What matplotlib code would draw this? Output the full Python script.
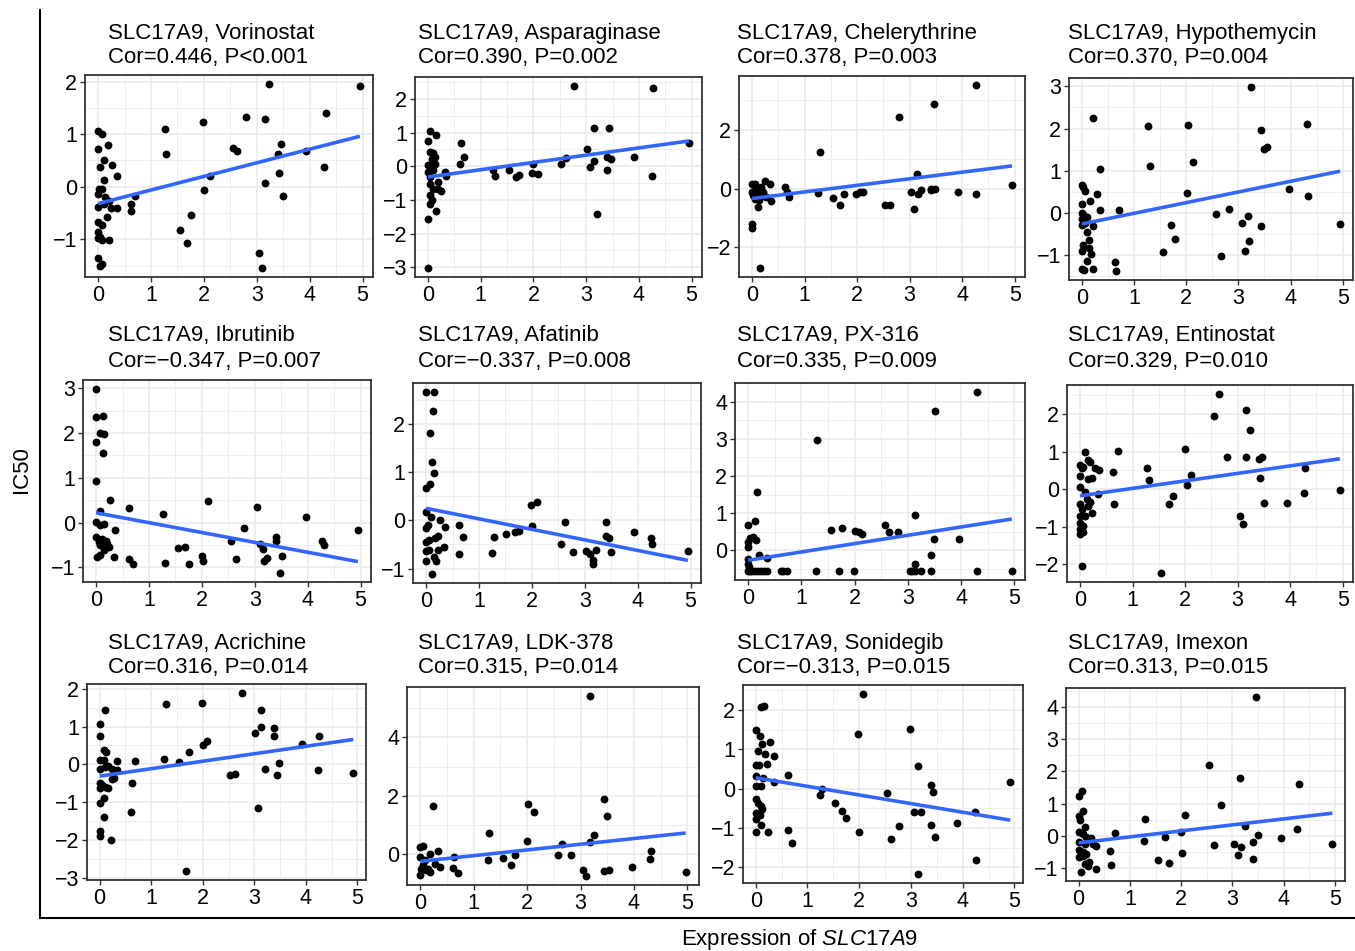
import matplotlib
matplotlib.use("Agg")
import matplotlib.pyplot as plt
from matplotlib.lines import Line2D
import numpy as np

# --- data (SLC17A9 expression vs drug IC50) ---
drugs = ["Vorinostat", "Asparaginase", "Chelerythrine", "Hypothemycin",
         "Ibrutinib", "Afatinib", "PX-316", "Entinostat",
         "Acrichine", "LDK-378", "Sonidegib", "Imexon"]
cors = ["0.446", "0.390", "0.378", "0.370", "\u22120.347", "\u22120.337",
        "0.335", "0.329", "0.316", "0.315", "\u22120.313", "0.313"]
pvals = ["P<0.001", "P=0.002", "P=0.003", "P=0.004", "P=0.007", "P=0.008",
         "P=0.009", "P=0.010", "P=0.014", "P=0.014", "P=0.015", "P=0.015"]

vorinostat = [(0, 1.06), (0.08, 1.0), (0, 0.71), (0.19, 0.79), (0.11, 0.51), (0.04, 0.37), (0.27, 0.42),
              (0.36, 0.2), (0.11, 0.13), (0.01, -0.05), (0.08, -0.05), (0, -0.14), (0.14, -0.2), (0.2, -0.27),
              (0, -0.38), (0.11, -0.33), (0.24, -0.4), (0.36, -0.4), (0.17, -0.58), (0, -0.66), (0.08, -0.72),
              (0, -0.85), (0.04, -0.95), (0, -0.98), (0.08, -1.02), (0.2, -1.01), (0, -1.36), (0.08, -1.46),
              (0.04, -1.5), (0.62, -0.33), (0.62, -0.46), (0.7, -0.17), (1.26, 1.1), (1.29, 0.63), (1.55, -0.82),
              (1.69, -1.06), (1.76, -0.53), (1.99, 1.23), (2.01, -0.06), (2.11, 0.2), (2.56, 0.73), (2.63, 0.68),
              (2.79, 1.32), (3.04, -1.26), (3.09, -1.54), (3.16, 1.29), (3.23, 1.95), (3.16, 0.08), (3.41, 0.63),
              (3.46, 0.82), (3.42, 0.26), (3.5, -0.17), (3.94, 0.68), (4.3, 1.4), (4.28, 0.37), (4.95, 1.92)]
asparaginase = [(0, -3.02), (0, -1.56), (0.16, -1.33), (0.03, -0.86), (0.08, -1.01), (0.04, -1.11), (0.1, -0.67),
                (0.19, -0.67), (0.25, -0.74), (0.19, -0.47), (0.03, -0.32), (0, -0.17), (0.1, -0.12), (0, 0.03),
                (0.13, 0.08), (0.08, 0.2), (0.13, 0.28), (0.03, 0.43), (0.1, 0.4), (0, 0.75), (0.04, 1.05),
                (0.15, 0.92), (0.32, -0.17), (0.34, -0.3), (0.04, -0.52), (0.62, 0.68), (0.69, 0.28), (0.61, 0.08),
                (1.24, -0.12), (1.27, -0.3), (1.53, -0.12), (1.66, -0.32), (1.72, -0.27), (1.99, 0.06),
                (1.97, -0.2), (2.09, -0.24), (2.53, 0.06), (2.61, 0.23), (2.77, 2.38), (3.01, 0.5), (3.08, -0.02),
                (3.14, 1.14), (3.15, 0.16), (3.2, -1.41), (3.39, -0.12), (3.44, 1.15), (3.4, 0.28), (3.48, 0.21),
                (3.91, 0.26), (4.27, 2.31), (4.25, -0.29), (4.95, 0.68)]
chelerythrine = [(0, 0.17), (0.05, 0.17), (0.24, 0.25), (0.34, 0.17), (0.08, 0), (0.18, 0.06), (0, -0.11),
                 (0.02, -0.23), (0.11, -0.17), (0.2, -0.11), (0.27, -0.28), (0.37, -0.43), (0.11, -0.63),
                 (0.14, -0.4), (0.05, -0.34), (0, -1.19), (0, -1.36), (0.15, -2.7), (0.62, 0.06), (0.67, -0.11),
                 (0.7, -0.28), (1.3, 1.25), (1.25, -0.15), (1.54, -0.32), (1.67, -0.57), (1.75, -0.2), (1.98, -0.2),
                 (2.05, -0.11), (2.11, -0.11), (2.54, -0.57), (2.63, -0.57), (2.8, 2.43), (3.02, -0.11),
                 (3.08, -0.68), (3.15, 0.48), (3.16, -0.2), (3.22, -0.06), (3.4, -0.06), (3.46, 2.87), (3.41, 0),
                 (3.49, -0.03), (3.92, -0.11), (4.27, -0.17), (4.27, 3.52), (4.95, 0.11)]
hypothemycin = [(0.22, 2.25), (0.35, 1.05), (0, 0.67), (0.03, 0.61), (0.06, 0.52), (0.28, 0.45), (0.16, 0.28),
                (0, 0.22), (0.35, 0.08), (0, 0), (0.03, -0.04), (0.1, -0.1), (0, -0.14), (0.06, -0.24),
                (0.22, -0.32), (0, -0.28), (0.1, -0.44), (0.13, -0.63), (0.03, -0.77), (0, -0.9), (0.13, -0.83),
                (0.18, -0.98), (0.1, -1.14), (0, -1.33), (0.04, -1.35), (0.21, -1.33), (0.63, -1.17), (0.65, -1.37),
                (0.71, 0.06), (1.26, 2.06), (1.31, 1.11), (1.56, -0.93), (1.7, -0.29), (1.78, -0.61), (2.02, 0.48),
                (2.04, 2.09), (2.13, 1.21), (2.58, -0.02), (2.67, -1.02), (2.82, 0.1), (3.06, -0.24), (3.12, -0.89),
                (3.19, -0.06), (3.2, -0.67), (3.25, 2.98), (3.44, 1.97), (3.44, -0.32), (3.49, 1.51), (3.54, 1.57),
                (3.97, 0.56), (4.31, 2.1), (4.33, 0.4), (4.95, -0.25)]
ibrutinib = [(0, 2.98), (0, 2.35), (0.13, 2.39), (0.08, 2.01), (0.15, 1.98), (0, 1.8), (0.13, 1.56), (0, 0.93),
             (0.27, 0.51), (0.08, 0.25), (0, 0.01), (0.08, -0.06), (0.15, -0.02), (0.35, -0.16), (0, -0.32),
             (0.05, -0.43), (0.11, -0.36), (0.18, -0.4), (0.21, -0.47), (0.24, -0.54), (0.08, -0.51),
             (0.15, -0.62), (0.02, -0.77), (0.07, -0.73), (0.34, -0.77), (0.62, 0.33), (0.63, -0.81), (0.7, -0.92),
             (1.27, 0.2), (1.3, -0.9), (1.54, -0.56), (1.69, -0.54), (1.76, -0.93), (2.0, -0.75), (2.03, -0.86),
             (2.11, 0.48), (2.56, -0.4), (2.64, -0.81), (2.79, -0.13), (3.05, 0.35), (3.1, -0.47), (3.16, -0.58),
             (3.17, -0.86), (3.24, -0.79), (3.41, -0.32), (3.41, -0.4), (3.48, -1.12), (3.51, -0.75), (3.96, 0.13),
             (4.28, -0.41), (4.3, -0.51), (4.95, -0.16)]
afatinib = [(0, 2.66), (0.15, 2.66), (0.13, 2.27), (0.08, 1.81), (0.11, 1.22), (0.15, 0.98), (0.08, 0.75),
            (0, 0.67), (0, 0.17), (0.1, 0.06), (0.27, 0), (0.35, -0.14), (0.03, -0.09), (0, -0.16), (0.22, -0.32),
            (0.16, -0.37), (0.06, -0.4), (0, -0.44), (0.33, -0.55), (0.22, -0.62), (0.06, -0.61), (0, -0.64),
            (0, -0.84), (0.18, -0.85), (0.15, -0.76), (0.11, -1.11), (0.62, -0.09), (0.7, -0.35), (0.63, -0.69),
            (1.29, -0.35), (1.25, -0.68), (1.52, -0.28), (1.68, -0.25), (1.76, -0.23), (1.99, 0.32), (2.09, 0.38),
            (2.01, -0.12), (2.56, -0.48), (2.62, -0.04), (2.78, -0.66), (3.03, -0.64), (3.09, -0.7), (3.16, -0.82),
            (3.16, -0.9), (3.22, -0.61), (3.41, -0.03), (3.41, -0.33), (3.46, -0.37), (3.49, -0.65), (3.93, -0.25),
            (4.26, -0.37), (4.28, -0.49), (4.95, -0.64)]
px316 = [(0, 0.68), (0.13, 0.79), (0.17, 1.58), (0, 0.23), (0.03, 0.32), (0.09, 0.36), (0.14, 0.27), (0, 0.09),
         (0.21, -0.12), (0.36, -0.21), (0, -0.23), (0, -0.36), (0.02, -0.45), (0, -0.56), (0.04, -0.56),
         (0.08, -0.56), (0.13, -0.56), (0.19, -0.56), (0.25, -0.56), (0.3, -0.56), (0.36, -0.56), (0.62, -0.56),
         (0.66, -0.56), (0.72, -0.56), (1.28, -0.56), (1.7, -0.56), (1.99, -0.56), (1.29, 2.97), (1.55, 0.54),
         (1.77, 0.6), (2.01, 0.52), (2.08, 0.48), (2.14, 0.43), (2.57, 0.68), (2.65, 0.5), (2.81, 0.5),
         (3.04, -0.56), (3.08, -0.56), (3.13, -0.56), (3.24, -0.56), (3.43, -0.56), (4.3, -0.56), (4.95, -0.56),
         (3.14, 0.95), (3.14, -0.36), (3.43, -0.14), (3.48, 0.3), (3.51, 3.76), (3.95, 0.29), (4.3, 4.26)]
entinostat = [(0, 0.65), (0.03, 0.56), (0.09, 1.0), (0.16, 0.79), (0.19, 0.72), (0.06, 0.58), (0.28, 0.56),
              (0.36, 0.52), (0, 0.34), (0.16, 0.27), (0.22, 0.31), (0, 0.06), (0.09, -0.07), (0.35, -0.13),
              (0.13, -0.27), (0.19, -0.34), (0, -0.4), (0.03, -0.54), (0.16, -0.45), (0.22, -0.64), (0.09, -0.72),
              (0, -0.72), (0, -0.91), (0.06, -0.98), (0, -1.06), (0.06, -1.15), (0, -1.21), (0.04, -2.04),
              (0.62, 0.45), (0.65, -0.4), (0.72, 1.03), (1.27, 0.56), (1.31, 0.25), (1.55, -2.24), (1.69, -0.4),
              (1.77, -0.18), (1.99, 1.06), (2.03, 0.11), (2.12, 0.38), (2.56, 1.95), (2.65, 2.54), (2.8, 0.87),
              (3.04, -0.72), (3.1, -0.92), (3.16, 2.12), (3.16, 0.87), (3.23, 1.57), (3.41, 0.81), (3.46, 0.87),
              (3.42, 0.3), (3.5, -0.38), (3.94, -0.38), (4.29, 0.56), (4.27, -0.11), (4.95, -0.02)]
acrichine = [(0.11, 1.45), (0, 1.06), (0, 0.75), (0.08, 0.38), (0.13, 0.33), (0, 0.11), (0.08, 0.11), (0.01, -0.12),
             (0.11, -0.06), (0.17, -0.04), (0.24, -0.12), (0.34, 0.09), (0.34, -0.15), (0.24, -0.39), (0.28, -0.37),
             (0, -0.5), (0.05, -0.54), (0.1, -0.61), (0.16, -0.63), (0, -0.63), (0.08, -0.89), (0.01, -1.01),
             (0.09, -1.4), (0, -1.77), (0, -1.9), (0.21, -2.01), (0.69, 0.09), (0.63, -0.5), (0.61, -1.25),
             (1.25, 0.13), (1.29, 1.61), (1.53, 0.07), (1.74, 0.33), (1.67, -2.82), (1.98, 1.63), (2.0, 0.51),
             (2.09, 0.62), (2.53, -0.28), (2.62, -0.26), (2.77, 1.89), (3.02, 0.82), (3.08, -1.16), (3.13, 1.0),
             (3.13, 1.45), (3.2, -0.13), (3.39, 0.96), (3.39, 0.75), (3.47, 0.05), (3.43, -0.29), (3.92, 0.54),
             (4.26, 0.75), (4.24, -0.15), (4.92, -0.24)]
ldk378 = [(3.18, 5.41), (0.23, 1.66), (2.01, 1.71), (2.13, 1.45), (3.44, 1.9), (3.49, 1.31), (1.28, 0.73),
          (3.25, 0.65), (3.18, 0.42), (1.99, 0.46), (2.65, 0.37), (0, 0.25), (0.05, 0.29), (0.34, 0.11), (0.18, 0),
          (0, -0.09), (0.08, -0.21), (0.27, -0.32), (0.37, -0.44), (0.02, -0.49), (0.11, -0.55), (0.19, -0.61),
          (0, -0.69), (0.06, -0.38), (0.15, -0.49), (0.63, -0.09), (0.62, -0.47), (0.7, -0.63), (1.27, -0.21),
          (1.55, -0.11), (1.7, -0.38), (1.77, -0.03), (2.58, -0.01), (2.82, -0.03), (3.04, -0.55), (3.11, -0.74),
          (3.44, -0.58), (3.53, -0.52), (3.97, -0.44), (4.32, 0.1), (4.31, -0.15), (4.97, -0.61)]
sonidegib = [(0.1, 2.08), (0.16, 2.11), (0, 1.5), (0.08, 1.33), (0.13, 1.14), (0.27, 1.18), (0.35, 0.83),
             (0.05, 0.96), (0.17, 0.88), (0.21, 0.62), (0, 0.6), (0.06, 0.6), (0, 0.33), (0.14, 0.27), (0.35, 0.17),
             (0, 0.06), (0.1, 0.07), (0, -0.26), (0.05, -0.36), (0.1, -0.43), (0.13, -0.51), (0.01, -0.62),
             (0.08, -0.67), (0.01, -0.77), (0.11, -0.92), (0, -1.1), (0.24, -1.11), (0.62, 0.36), (0.62, -1.05),
             (0.7, -1.37), (1.25, -0.17), (1.29, 0), (1.53, -0.36), (1.67, -0.56), (1.75, -0.75), (1.98, 1.4),
             (2.0, -1.1), (2.08, 2.41), (2.54, -0.11), (2.61, -1.27), (2.77, -0.94), (2.99, 1.52), (3.06, -0.6),
             (3.13, 0.58), (3.13, -2.17), (3.2, -0.6), (3.38, 0.1), (3.42, -0.09), (3.38, -0.92), (3.47, -1.24),
             (3.89, -0.87), (4.24, -0.58), (4.25, -1.82), (4.92, 0.17)]
imexon = [(3.46, 4.31), (2.55, 2.19), (3.15, 1.78), (4.29, 1.61), (2.78, 0.94), (2.08, 0.65), (1.3, 0.52),
          (0, 1.22), (0.07, 1.38), (0.08, 0.77), (0, 0.6), (0.02, 0.49), (0.12, 0.28), (0, 0.13), (0.08, 0.04),
          (0.25, -0.08), (0.15, -0.03), (0, -0.19), (0.12, -0.26), (0.28, -0.24), (0.34, -0.31), (0, -0.45),
          (0.08, -0.5), (0.15, -0.55), (0, -0.66), (0.08, -0.64), (0.12, -0.87), (0.2, -0.82), (0.18, -0.95),
          (0.34, -1.03), (0.05, -1.13), (0.62, -0.47), (0.64, -0.9), (0.7, 0.1), (1.27, -0.16), (1.55, -0.76),
          (1.68, -0.05), (1.76, -0.85), (2.0, 0.13), (2.02, -0.53), (2.64, -0.29), (3.04, -0.26), (3.1, -0.61),
          (3.16, -0.35), (3.24, 0.3), (3.41, -0.19), (3.41, -0.71), (3.49, 0.02), (3.95, -0.06), (4.27, 0.21),
          (4.95, -0.26)]

panel_points = [vorinostat, asparaginase, chelerythrine, hypothemycin,
                ibrutinib, afatinib, px316, entinostat,
                acrichine, ldk378, sonidegib, imexon]

# fitted line value at lowest and highest expression
fit_ends = [(-0.32, 0.96), (-0.32, 0.75), (-0.34, 0.77), (-0.26, 0.99),
            (0.22, -0.87), (0.25, -0.83), (-0.27, 0.84), (-0.18, 0.81),
            (-0.31, 0.66), (-0.24, 0.73), (0.28, -0.80), (-0.22, 0.70)]

y_breaks = [[-1, 0, 1, 2], [-3, -2, -1, 0, 1, 2], [-2, 0, 2], [-1, 0, 1, 2, 3],
            [-1, 0, 1, 2, 3], [-1, 0, 1, 2], [0, 1, 2, 3, 4], [-2, -1, 0, 1, 2],
            [-3, -2, -1, 0, 1, 2], [0, 2, 4], [-2, -1, 0, 1, 2], [-1, 0, 1, 2, 3, 4]]
x_breaks = [0, 1, 2, 3, 4, 5]

# --- layout (pixel boxes: left, top, right, bottom) ---
W, H = 1355, 951
boxes = [(85, 75, 373, 277), (415, 77, 702, 277), (739, 76, 1025, 277), (1069, 78, 1353, 280),
         (83, 380, 371, 582), (413, 383, 701, 583), (735, 383, 1025, 580), (1067, 385, 1353, 582),
         (87, 684, 366, 880), (407, 687, 699, 885), (743, 685, 1023, 883), (1066, 688, 1345, 881)]
title_x = [108, 418, 737, 1068]
title_y = [(33, 58), (336, 361), (643, 668)]

plt.rcParams["font.family"] = ["Liberation Sans", "DejaVu Sans"]
plt.rcParams["mathtext.fontset"] = "custom"
plt.rcParams["mathtext.rm"] = "Liberation Sans"
plt.rcParams["mathtext.it"] = "Liberation Sans:italic"

fig = plt.figure(figsize=(W / 100, H / 100), dpi=100)


def minor_breaks(br, lo, hi):
    step = br[1] - br[0]
    ext = [br[0] - step] + list(br) + [br[-1] + step]
    mids = [(a + b) / 2 for a, b in zip(ext[:-1], ext[1:])]
    return [m for m in mids if lo <= m <= hi]


for i, pts in enumerate(panel_points):
    l, t, r, b = boxes[i]
    ax = fig.add_axes([l / W, 1 - b / H, (r - l) / W, (b - t) / H])
    xs = np.array([p[0] for p in pts])
    ys = np.array([p[1] for p in pts])
    ax.scatter(xs, ys, s=32, color="black", linewidths=0, zorder=3)
    fx = [xs.min(), xs.max()]
    ax.plot(fx, fit_ends[i], color="#3366FF", lw=2.6, zorder=4, solid_capstyle="butt")

    # ggplot-like 5% expansion
    xlo, xhi = xs.min(), xs.max()
    ylo = min(ys.min(), min(fit_ends[i]))
    yhi = max(ys.max(), max(fit_ends[i]))
    xpad, ypad = 0.05 * (xhi - xlo), 0.05 * (yhi - ylo)
    xlim = (xlo - xpad, xhi + xpad)
    ylim = (ylo - ypad, yhi + ypad)

    ax.set_xticks(x_breaks)
    ax.set_yticks(y_breaks[i])
    ax.set_xticks(minor_breaks(x_breaks, *xlim), minor=True)
    ax.set_yticks(minor_breaks(y_breaks[i], *ylim), minor=True)
    ax.set_xlim(xlim)
    ax.set_ylim(ylim)

    ax.grid(which="major", color="#EBEBEB", lw=1.2)
    ax.grid(which="minor", color="#EBEBEB", lw=0.6)
    ax.set_axisbelow(True)
    for sp in ax.spines.values():
        sp.set_color("#333333")
        sp.set_linewidth(1.3)
    ax.tick_params(which="major", length=3.5, width=1, color="#333333",
                   labelsize=15.5, labelcolor="black", pad=2)
    ax.tick_params(which="minor", length=0)

    tx = title_x[i % 4]
    ty1, ty2 = title_y[i // 4]
    fig.text(tx / W, 1 - ty1 / H, f"SLC17A9, {drugs[i]}", ha="left", va="center", fontsize=16)
    fig.text(tx / W, 1 - ty2 / H, f"Cor={cors[i]}, {pvals[i]}", ha="left", va="center", fontsize=16)

# outer L-shaped frame
fig.add_artist(Line2D([40 / W, 40 / W], [1 - 10 / H, 1 - 918 / H], color="black", lw=1.5))
fig.add_artist(Line2D([40 / W, 1.0], [1 - 918 / H, 1 - 918 / H], color="black", lw=1.5))

fig.text(22 / W, 1 - 470 / H, "IC50", rotation=90, ha="center", va="center", fontsize=16)
fig.text(800 / W, 1 - 940 / H, r"Expression of $\it{SLC17A9}$", ha="center", va="center", fontsize=16)

fig.savefig("out.png", dpi=100)
